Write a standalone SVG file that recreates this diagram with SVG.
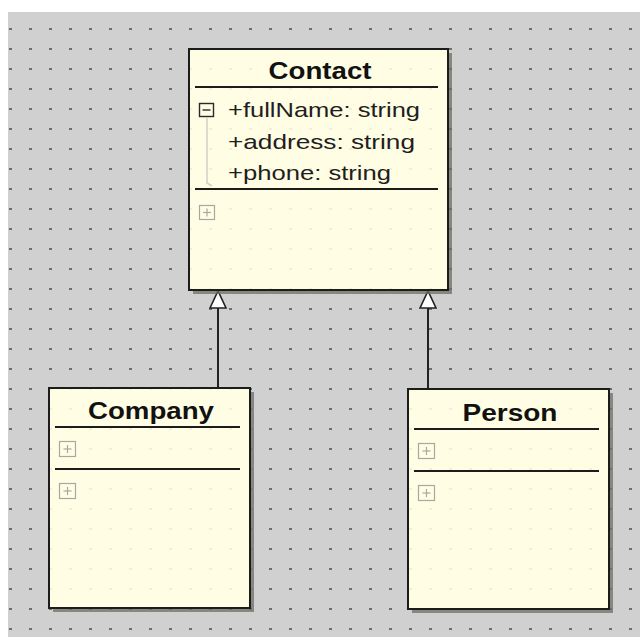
<svg xmlns="http://www.w3.org/2000/svg" width="640" height="637" viewBox="0 0 640 637">
  <defs>
    <pattern id="grid" patternUnits="userSpaceOnUse" x="0" y="0" width="20" height="20">
      <rect x="9" y="8" width="3" height="2" fill="#6e6e6e"/>
    </pattern>
    <pattern id="innerGrid" patternUnits="userSpaceOnUse" x="0" y="0" width="20" height="20">
      <rect x="9" y="8" width="3" height="2" fill="#f3efd6"/>
    </pattern>
    <marker id="inherit" viewBox="0 0 20 18" refX="18" refY="9" markerWidth="20" markerHeight="18" markerUnits="userSpaceOnUse" orient="auto">
      <path d="M1,1 L18,9 L1,17 Z" fill="#ffffff" stroke="#222222" stroke-width="1.6" stroke-linejoin="miter"/>
    </marker>
  </defs>
  <style>
    .shadow { fill: #6f6f66; opacity: 0.75; }
    .box { fill: #fffde4; stroke: #1c1c1c; stroke-width: 2; }
    .boxdots { fill: url(#grid); opacity: 0; }
    .inner { fill: url(#innerGrid); }
    .sep { stroke: #1c1c1c; stroke-width: 2; }
    .title { font-family: "Liberation Sans", Arial, sans-serif; font-weight: bold; font-size: 23px; fill: #111111; text-anchor: middle; }
    .attr { font-family: "Liberation Sans", Arial, sans-serif; font-size: 21px; fill: #1e1e1e; }
    .toggle { fill: #fffde4; stroke: #a8a8a0; stroke-width: 1.2; }
    .toggle-mark { stroke: #a8a8a0; stroke-width: 1.2; }
    .toggle-open { fill: #fffde4; stroke: #2a2a2a; stroke-width: 1.4; }
    .toggle-open-mark { stroke: #2a2a2a; stroke-width: 1.4; }
    .tree { stroke: #cfcfc6; stroke-width: 1.5; fill: none; }
    .edge { stroke: #222222; stroke-width: 2; fill: none; }
  </style>

  <!-- canvas -->
  <rect x="0" y="0" width="640" height="637" fill="#ffffff"/>
  <rect x="8" y="12" width="632" height="625" fill="#d0d0d0"/>
  <rect x="8" y="12" width="632" height="625" fill="url(#grid)"/>

  <!-- generalization connectors -->
  <g id="connectors">
    <path class="edge" d="M218,388 L218,291" marker-end="url(#inherit)"/>
    <path class="edge" d="M428,389 L428,291" marker-end="url(#inherit)"/>
  </g>

  <!-- Contact class -->
  <g id="contact">
    <rect class="shadow" x="193" y="53" width="259" height="241"/>
    <rect class="box" x="189" y="49" width="259" height="241"/>
    <rect class="inner" x="190" y="50" width="257" height="239"/>
    <text class="title" x="320" y="79" textLength="103" lengthAdjust="spacingAndGlyphs">Contact</text>
    <line class="sep" x1="195" y1="87" x2="438" y2="87"/>
    <rect class="toggle-open" x="199.5" y="103.5" width="14" height="13"/>
    <line class="toggle-open-mark" x1="202.5" y1="110" x2="210.5" y2="110"/>
    <path class="tree" d="M207,117 L207,183 L212,186"/>
    <text class="attr" x="228" y="117" textLength="192" lengthAdjust="spacingAndGlyphs">+fullName: string</text>
    <text class="attr" x="228" y="149" textLength="187" lengthAdjust="spacingAndGlyphs">+address: string</text>
    <text class="attr" x="228" y="180" textLength="163" lengthAdjust="spacingAndGlyphs">+phone: string</text>
    <line class="sep" x1="195" y1="189" x2="438" y2="189"/>
    <rect class="toggle" x="199.5" y="205.5" width="15" height="14"/>
    <line class="toggle-mark" x1="203" y1="212.5" x2="211" y2="212.5"/>
    <line class="toggle-mark" x1="207" y1="208.5" x2="207" y2="216.5"/>
  </g>

  <!-- Company class -->
  <g id="company">
    <rect class="shadow" x="53" y="392" width="201" height="220"/>
    <rect class="box" x="49" y="388" width="201" height="220"/>
    <rect class="inner" x="50" y="389" width="199" height="218"/>
    <text class="title" x="151" y="419" textLength="126" lengthAdjust="spacingAndGlyphs">Company</text>
    <line class="sep" x1="55" y1="427" x2="240" y2="427"/>
    <rect class="toggle" x="59.5" y="441.5" width="16" height="15"/>
    <line class="toggle-mark" x1="63.5" y1="449" x2="71.5" y2="449"/>
    <line class="toggle-mark" x1="67.5" y1="445" x2="67.5" y2="453"/>
    <line class="sep" x1="55" y1="469" x2="240" y2="469"/>
    <rect class="toggle" x="59.5" y="483.5" width="16" height="15"/>
    <line class="toggle-mark" x1="63.5" y1="491" x2="71.5" y2="491"/>
    <line class="toggle-mark" x1="67.5" y1="487" x2="67.5" y2="495"/>
  </g>

  <!-- Person class -->
  <g id="person">
    <rect class="shadow" x="412" y="393" width="201" height="220"/>
    <rect class="box" x="408" y="389" width="201" height="220"/>
    <rect class="inner" x="409" y="390" width="199" height="218"/>
    <text class="title" x="510" y="421" textLength="95" lengthAdjust="spacingAndGlyphs">Person</text>
    <line class="sep" x1="414" y1="429" x2="599" y2="429"/>
    <rect class="toggle" x="418.5" y="443.5" width="16" height="15"/>
    <line class="toggle-mark" x1="422.5" y1="451" x2="430.5" y2="451"/>
    <line class="toggle-mark" x1="426.5" y1="447" x2="426.5" y2="455"/>
    <line class="sep" x1="414" y1="471" x2="599" y2="471"/>
    <rect class="toggle" x="418.5" y="485.5" width="16" height="15"/>
    <line class="toggle-mark" x1="422.5" y1="493" x2="430.5" y2="493"/>
    <line class="toggle-mark" x1="426.5" y1="489" x2="426.5" y2="497"/>
  </g>
</svg>
